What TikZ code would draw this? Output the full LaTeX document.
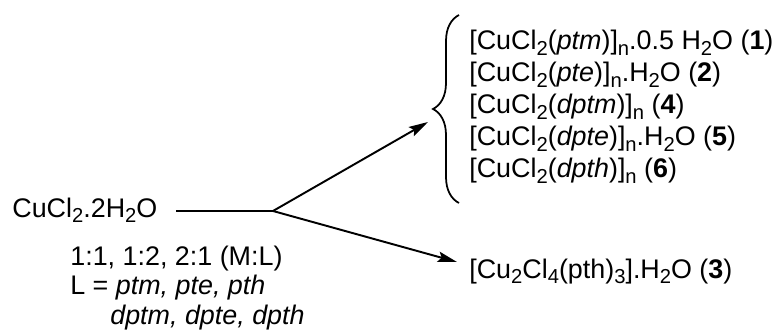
\documentclass[tikz,border=0pt]{standalone}
\usepackage{fontspec}
\setmainfont{Liberation Sans}
\usetikzlibrary{positioning, arrows.meta, decorations.pathreplacing}
\tikzset{
    chem/.style = {
        anchor = base west,
        inner sep = 0pt,
        font = \fontsize{15.3}{18.8}\selectfont
    },
    line/.style = {-{Stealth[length=11pt, width=6pt, inset=2pt]}, line width=1.1pt},
    bracket/.style = {line width=1pt, decorate, decoration={brace, amplitude=0.52cm}}
}
\newcommand{\chsub}[1]{\raisebox{-0.2em}{\fontsize{11.5}{12}\selectfont #1}}

\begin{document}
\begin{tikzpicture}[x=0.02cm, y=-0.02cm]

    \useasboundingbox (0,0) rectangle (775,331);

    % Starting salt and conditions
    \node[chem] (salt) at (12,217) {CuCl\chsub{2}.2H\chsub{2}O};
    \node[chem] (ratio) at (70,265) {1:1, 1:2, 2:1 (M:L)};
    \node[chem] (lig1) at (70,295) {L = \textit{ptm, pte, pth}};
    \node[chem] (lig2) at (110,324) {\textit{dptm, dpte, dpth}};

    % Products
    \node[chem] (prod1) at (469,50) {[CuCl\chsub{2}(\textit{ptm})]\chsub{n}.0.5 H\chsub{2}O (\textbf{1})};
    \node[chem] (prod2) at (469,82) {[CuCl\chsub{2}(\textit{pte})]\chsub{n}.H\chsub{2}O (\textbf{2})};
    \node[chem] (prod4) at (469,114) {[CuCl\chsub{2}(\textit{dptm})]\chsub{n} (\textbf{4})};
    \node[chem] (prod5) at (469,146) {[CuCl\chsub{2}(\textit{dpte})]\chsub{n}.H\chsub{2}O (\textbf{5})};
    \node[chem] (prod6) at (469,178) {[CuCl\chsub{2}(\textit{dpth})]\chsub{n} (\textbf{6})};
    \node[chem] (prod3) at (469,278) {[Cu\chsub{2}Cl\chsub{4}(pth)\chsub{3}].H\chsub{2}O (\textbf{3})};

    % Lines
    \coordinate (start) at (176,211);
    \coordinate (split) at (273,211);
    \coordinate (tip1) at (428,122);
    \coordinate (tip2) at (457,262);
    \draw[line width=1.1pt] (start) -- (split);
    \draw[line] (split) -- (tip1);
    \draw[line] (split) -- (tip2);
    \draw[bracket] (459,203) -- (459,15);

\end{tikzpicture}
\end{document}
